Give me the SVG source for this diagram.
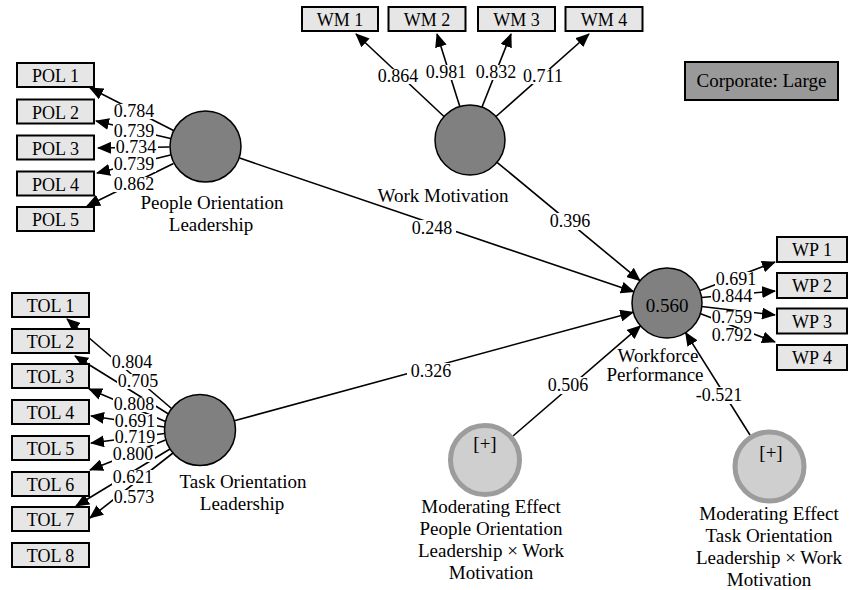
<svg xmlns="http://www.w3.org/2000/svg" width="849" height="590" viewBox="0 0 849 590">
<defs>
<marker id="ah" markerUnits="userSpaceOnUse" markerWidth="14" markerHeight="12" refX="13" refY="6" orient="auto">
<path d="M0,0 L14,6 L0,12 z" fill="#000"/>
</marker>
<style>
text{font-family:"Liberation Serif","Times New Roman",serif;fill:#000}
.ind{fill:#e6e6e6;stroke:#000;stroke-width:2}
.ind-t{font-size:18px;text-anchor:middle}
.lat{fill:#808080;stroke:#000;stroke-width:1.5}
.mod{fill:#cfcfcf;stroke:#9c9c9c;stroke-width:5}
.name{font-size:19px;text-anchor:middle}
.val{font-size:18px;text-anchor:middle}
.bg{fill:#fff}
.con line{stroke:#000;stroke-width:1.6;marker-end:url(#ah)}
</style>
</defs>
<rect width="849" height="590" fill="#fff"/>

<g id="connectors" class="con">
<line x1="173.5" y1="130.5" x2="90" y2="88"/>
<line x1="170.5" y1="138.5" x2="96" y2="121"/>
<line x1="169.5" y1="147" x2="98" y2="148"/>
<line x1="170.5" y1="155" x2="97" y2="173"/>
<line x1="173.5" y1="163.5" x2="87" y2="206"/>
<line x1="171.5" y1="408.5" x2="67" y2="319"/>
<line x1="168.5" y1="414" x2="75" y2="356"/>
<line x1="165.5" y1="421.5" x2="89" y2="389"/>
<line x1="164.5" y1="427" x2="91" y2="416"/>
<line x1="164.5" y1="433.5" x2="91" y2="443"/>
<line x1="165.5" y1="440" x2="90" y2="470"/>
<line x1="170" y1="449" x2="76" y2="506"/>
<line x1="173" y1="453" x2="90" y2="518"/>
<line x1="444" y1="116.5" x2="356" y2="34"/>
<line x1="459.8" y1="106.6" x2="437" y2="34"/>
<line x1="482" y1="107" x2="511" y2="34"/>
<line x1="496" y1="116.5" x2="589" y2="34"/>
<line x1="700" y1="290.5" x2="775" y2="262"/>
<line x1="701.5" y1="297.5" x2="775" y2="291"/>
<line x1="701.5" y1="306.5" x2="775" y2="315"/>
<line x1="700" y1="313.5" x2="775" y2="342"/>
<line x1="239.6" y1="158.1" x2="633.9" y2="291.8"/>
<line x1="497" y1="162.3" x2="640" y2="280.7"/>
<line x1="234.3" y1="420.7" x2="633.2" y2="312.2"/>
<line x1="513" y1="436" x2="640.5" y2="325.9"/>
<line x1="750" y1="435" x2="685.6" y2="332.6"/>
</g>

<g id="labels">
<rect class="bg" x="113" y="104" width="43" height="15"/><text class="val" x="134" y="117">0.784</text>
<rect class="bg" x="113" y="124" width="43" height="15"/><text class="val" x="134" y="137">0.739</text>
<rect class="bg" x="115" y="140" width="43" height="15"/><text class="val" x="136" y="153">0.734</text>
<rect class="bg" x="113" y="157" width="43" height="15"/><text class="val" x="134" y="170">0.739</text>
<rect class="bg" x="113" y="177" width="43" height="15"/><text class="val" x="134" y="190">0.862</text>

<rect class="bg" x="111" y="355" width="43" height="15"/><text class="val" x="132" y="368">0.804</text>
<rect class="bg" x="117" y="374" width="43" height="15"/><text class="val" x="138" y="387">0.705</text>
<rect class="bg" x="113" y="397" width="43" height="15"/><text class="val" x="134" y="410">0.808</text>
<rect class="bg" x="114" y="414" width="43" height="15"/><text class="val" x="135" y="427">0.691</text>
<rect class="bg" x="114" y="430" width="43" height="15"/><text class="val" x="135" y="443">0.719</text>
<rect class="bg" x="112" y="447" width="43" height="15"/><text class="val" x="133" y="460">0.800</text>
<rect class="bg" x="112" y="470" width="43" height="15"/><text class="val" x="133" y="483">0.621</text>
<rect class="bg" x="113" y="490" width="43" height="15"/><text class="val" x="134" y="503">0.573</text>

<rect class="bg" x="377" y="69" width="43" height="15"/><text class="val" x="398" y="82">0.864</text>
<rect class="bg" x="425" y="65" width="43" height="15"/><text class="val" x="446" y="78">0.981</text>
<rect class="bg" x="475" y="65" width="43" height="15"/><text class="val" x="496" y="78">0.832</text>
<rect class="bg" x="522" y="69" width="43" height="15"/><text class="val" x="543" y="82">0.711</text>

<rect class="bg" x="715" y="272" width="43" height="15"/><text class="val" x="736" y="285">0.691</text>
<rect class="bg" x="711" y="289" width="43" height="15"/><text class="val" x="732" y="302">0.844</text>
<rect class="bg" x="711" y="310" width="43" height="15"/><text class="val" x="732" y="323">0.759</text>
<rect class="bg" x="711" y="328" width="43" height="15"/><text class="val" x="732" y="341">0.792</text>

<rect class="bg" x="408" y="220" width="48" height="17"/><text class="val" x="432" y="234">0.248</text>
<rect class="bg" x="546" y="213" width="48" height="17"/><text class="val" x="570" y="227">0.396</text>
<rect class="bg" x="407" y="363" width="48" height="17"/><text class="val" x="431" y="377">0.326</text>
<rect class="bg" x="544" y="377" width="48" height="17"/><text class="val" x="568" y="391">0.506</text>
<rect class="bg" x="694" y="387" width="52" height="17"/><text class="val" x="719" y="401">-0.521</text>
</g>

<g id="POL1"><rect class="ind" x="17" y="63" width="77" height="24"/><text class="ind-t" x="55.5" y="82">POL 1</text></g>
<g id="POL2"><rect class="ind" x="17" y="99.5" width="77" height="24"/><text class="ind-t" x="55.5" y="118.5">POL 2</text></g>
<g id="POL3"><rect class="ind" x="17" y="135.5" width="77" height="24"/><text class="ind-t" x="55.5" y="154.5">POL 3</text></g>
<g id="POL4"><rect class="ind" x="17" y="171.5" width="77" height="24"/><text class="ind-t" x="55.5" y="190.5">POL 4</text></g>
<g id="POL5"><rect class="ind" x="17" y="207" width="77" height="24"/><text class="ind-t" x="55.5" y="226">POL 5</text></g>

<g id="TOL1"><rect class="ind" x="12" y="293" width="77" height="24"/><text class="ind-t" x="50.5" y="312">TOL 1</text></g>
<g id="TOL2"><rect class="ind" x="12" y="329" width="77" height="24"/><text class="ind-t" x="50.5" y="348">TOL 2</text></g>
<g id="TOL3"><rect class="ind" x="12" y="364" width="77" height="24"/><text class="ind-t" x="50.5" y="383">TOL 3</text></g>
<g id="TOL4"><rect class="ind" x="12" y="400" width="77" height="24"/><text class="ind-t" x="50.5" y="419">TOL 4</text></g>
<g id="TOL5"><rect class="ind" x="12" y="436" width="77" height="24"/><text class="ind-t" x="50.5" y="455">TOL 5</text></g>
<g id="TOL6"><rect class="ind" x="12" y="472" width="77" height="24"/><text class="ind-t" x="50.5" y="491">TOL 6</text></g>
<g id="TOL7"><rect class="ind" x="12" y="507" width="77" height="24"/><text class="ind-t" x="50.5" y="526">TOL 7</text></g>
<g id="TOL8"><rect class="ind" x="12" y="543" width="77" height="24"/><text class="ind-t" x="50.5" y="562">TOL 8</text></g>

<g id="WM1"><rect class="ind" x="302" y="7" width="76" height="24"/><text class="ind-t" x="340" y="26">WM 1</text></g>
<g id="WM2"><rect class="ind" x="388.5" y="7" width="77" height="24"/><text class="ind-t" x="427" y="26">WM 2</text></g>
<g id="WM3"><rect class="ind" x="478" y="7" width="77" height="24"/><text class="ind-t" x="516.5" y="26">WM 3</text></g>
<g id="WM4"><rect class="ind" x="565.5" y="7" width="77" height="24"/><text class="ind-t" x="604" y="26">WM 4</text></g>

<g id="WP1"><rect class="ind" x="777" y="237" width="70" height="25"/><text class="ind-t" x="812" y="256">WP 1</text></g>
<g id="WP2"><rect class="ind" x="777" y="273" width="70" height="25"/><text class="ind-t" x="812" y="292">WP 2</text></g>
<g id="WP3"><rect class="ind" x="777" y="308.5" width="70" height="25"/><text class="ind-t" x="812" y="327.5">WP 3</text></g>
<g id="WP4"><rect class="ind" x="777" y="345" width="70" height="25"/><text class="ind-t" x="812" y="364">WP 4</text></g>

<g id="POL"><circle class="lat" cx="205.5" cy="146.5" r="35.5"/><text class="name" x="212" y="209">People Orientation</text><text class="name" x="211" y="231">Leadership</text></g>
<g id="TOL"><circle class="lat" cx="200" cy="430" r="35.5"/><text class="name" x="243" y="488">Task Orientation</text><text class="name" x="242" y="510">Leadership</text></g>
<g id="WM"><circle class="lat" cx="470" cy="140" r="35"/><text class="name" x="443" y="202">Work Motivation</text></g>
<g id="WP"><circle class="lat" cx="667" cy="303" r="35"/><text class="name" x="667" y="312">0.560</text><text class="name" x="658" y="362">Workforce</text><text class="name" x="655" y="381">Performance</text></g>

<g id="MOD1"><circle class="mod" cx="485" cy="460" r="34.5"/><text class="name" x="485" y="450">[+]</text>
<text class="name" x="491" y="513">Moderating Effect</text><text class="name" x="491" y="535">People Orientation</text><text class="name" x="491" y="557">Leadership × Work</text><text class="name" x="491" y="579">Motivation</text></g>
<g id="MOD2"><circle class="mod" cx="769.5" cy="466.5" r="34.5"/><text class="name" x="771" y="459">[+]</text>
<text class="name" x="769" y="520">Moderating Effect</text><text class="name" x="769" y="542">Task Orientation</text><text class="name" x="769" y="564">Leadership × Work</text><text class="name" x="769" y="586">Motivation</text></g>

<g id="GROUP"><rect x="685" y="62" width="153" height="38" fill="#999" stroke="#000" stroke-width="2"/><text class="name" x="761.5" y="87">Corporate: Large</text></g>
</svg>
